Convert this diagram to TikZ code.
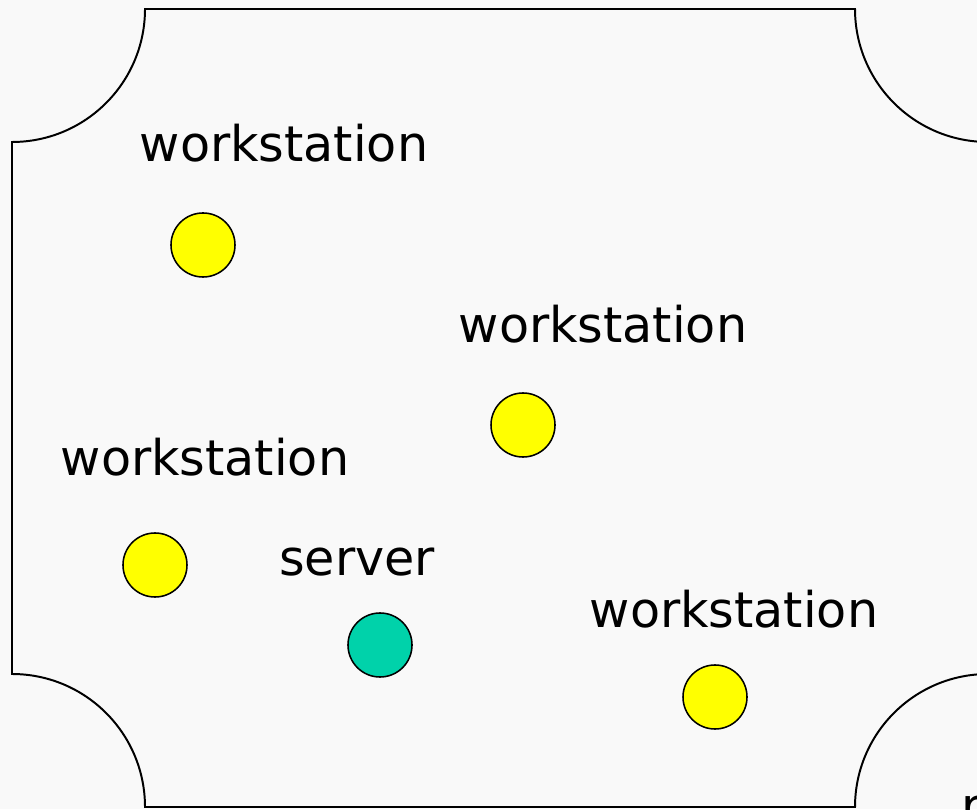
\documentclass[tikz,border=0pt]{standalone}
\usepackage{fontspec}
\setmainfont{DejaVu Sans}
\definecolor{paper}{HTML}{F9F9F9}
\definecolor{wsyellow}{HTML}{FFFF00}
\definecolor{srvteal}{HTML}{00D2AA}
\begin{document}
\begin{tikzpicture}[x=0.025cm,y=0.025cm,
  host/.style={circle,draw=black,line width=1.1pt,minimum size=1.6cm,inner sep=0pt},
  ws/.style={host,fill=wsyellow},
  srv/.style={host,fill=srvteal},
  lbl/.style={anchor=base,inner sep=0pt,font=\fontsize{35}{42}\selectfont}]
  % page background
  \fill[paper] (0,0) rectangle (977,809);
  \useasboundingbox (0,0) rectangle (977,809);

  % network region with concave corners
  \draw[line width=1.4pt]
    (12,667) arc[start angle=270,end angle=360,radius=133]
    -- (855,800) arc[start angle=180,end angle=270,radius=133]
    -- (988,135) arc[start angle=90,end angle=180,radius=133]
    -- (145,2) arc[start angle=0,end angle=90,radius=133]
    -- cycle;

  % hosts
  \node[ws]  (w1) at (203,564) {};
  \node[ws]  (w2) at (523,384) {};
  \node[ws]  (w3) at (155,244) {};
  \node[srv] (s)  at (380,164) {};
  \node[ws]  (w4) at (715,112) {};

  % labels
  \node[lbl] (l1) at (284,647) {workstation};
  \node[lbl] (l2) at (603,466) {workstation};
  \node[lbl] (l3) at (205,333) {workstation};
  \node[lbl] (ls) at (357,234) {server};
  \node[lbl] (l4) at (734,182) {workstation};
  \node[lbl,anchor=base west] (lr) at (961,-14) {r};
\end{tikzpicture}
\end{document}
